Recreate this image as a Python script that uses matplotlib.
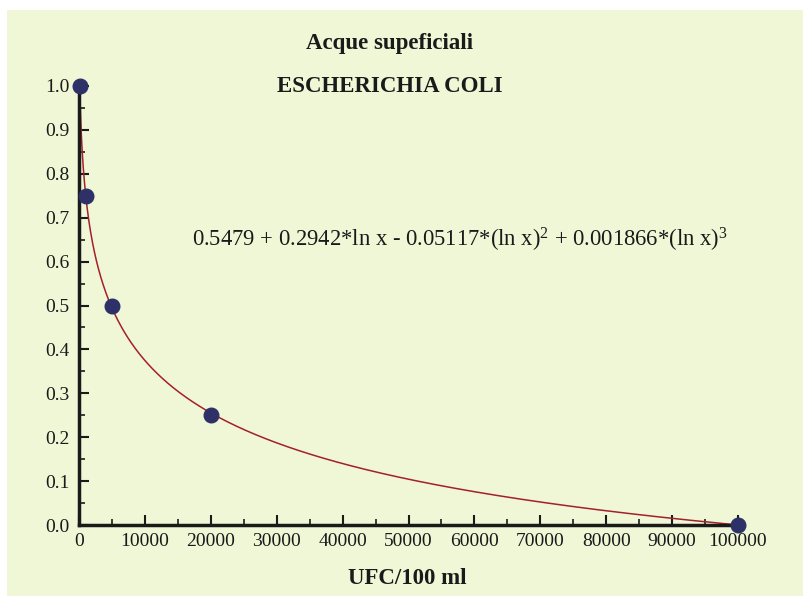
import numpy as np
import matplotlib.pyplot as plt

# Data
ufc = [100, 1000, 5000, 20000, 100000]
value = [1.0, 0.75, 0.5, 0.25, 0.0]

# Fitted curve coefficients (as printed on the chart)
coef = [0.5479, 0.2942, -0.05117, 0.001866]

x_ticks = [0, 10000, 20000, 30000, 40000, 50000, 60000, 70000, 80000, 90000, 100000]
y_ticks = [0.0, 0.1, 0.2, 0.3, 0.4, 0.5, 0.6, 0.7, 0.8, 0.9, 1.0]

plt.rcParams['font.family'] = ['Liberation Serif', 'DejaVu Serif']
plt.rcParams['mathtext.fontset'] = 'custom'
plt.rcParams['mathtext.rm'] = 'Liberation Serif'
plt.rcParams['mathtext.default'] = 'regular'

bg = '#f0f7d6'
fig = plt.figure(figsize=(8.04, 5.96), dpi=100)
fig.patch.set_facecolor('white')
# cream panel behind everything
fig.patches.append(plt.Rectangle((7 / 804, 0), 1 - 7 / 804, 1 - 10 / 596,
                                 transform=fig.transFigure, facecolor=bg,
                                 edgecolor='none', zorder=-10))

ax = fig.add_axes([79 / 804, 1 - 525 / 596, (738 - 79) / 804, (525 - 86) / 596])
ax.set_facecolor(bg)

# Fitted curve
xs = np.linspace(ufc[0], ufc[-1], 2000)
lx = np.log(xs)
ys = coef[0] + coef[1] * lx + coef[2] * lx ** 2 + coef[3] * lx ** 3
ax.plot(xs, ys, color='#a3202c', lw=1.1, clip_on=False, zorder=2)

# Data points
ax.plot(ufc, value, 'o', color='#2d3168', markersize=10.5, clip_on=False, zorder=3)

ax.set_xlim(0, 100000)
ax.set_ylim(0, 1.0)
ax.set_xticks(x_ticks)
ax.set_xticklabels([str(t) for t in x_ticks])
ax.set_yticks(y_ticks)
ax.set_yticklabels(['%.1f' % t for t in y_ticks])
ax.set_xticks(np.arange(5000, 100000, 10000), minor=True)
ax.set_yticks(np.arange(0.05, 1.0, 0.1), minor=True)
ax.tick_params(which='major', direction='in', length=7, width=1.5, labelsize=14,
               colors='#1a1a1a')
ax.tick_params(axis='y', which='major', pad=7)
ax.tick_params(axis='x', which='major', pad=6)
ax.tick_params(which='minor', direction='in', length=4, width=1.2, colors='#1a1a1a')

for s in ['top', 'right']:
    ax.spines[s].set_visible(False)
for s in ['left', 'bottom']:
    ax.spines[s].set_linewidth(2.5)
    ax.spines[s].set_color('#1a1a1a')

fig.text(390 / 804, 1 - 43 / 596, 'Acque supeficiali', ha='center', va='center',
         fontsize=16.5, fontweight='bold', color='#1a1a1a')
fig.text(390 / 804, 1 - 86 / 596, 'ESCHERICHIA COLI', ha='center', va='center',
         fontsize=16.5, fontweight='bold', color='#1a1a1a')
fig.text(407 / 804, 1 - 578 / 596, 'UFC/100 ml', ha='center', va='center',
         fontsize=16.5, fontweight='bold', color='#1a1a1a')

fig.text(192 / 804, 1 - 240 / 596,
         '0.5479 + 0.2942*ln x - 0.05117*(ln x)$^2$ + 0.001866*(ln x)$^3$',
         ha='left', va='center', fontsize=16.3, color='#1a1a1a')

fig.savefig('out.png', dpi=100, facecolor=fig.get_facecolor())
